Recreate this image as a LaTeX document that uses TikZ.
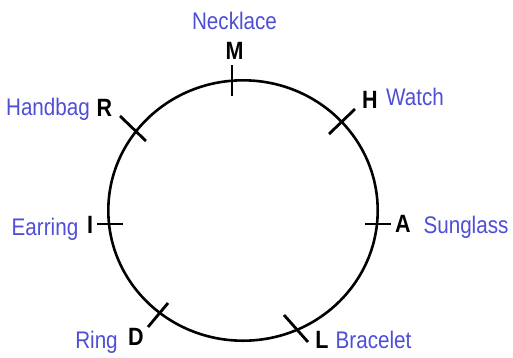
\documentclass[tikz,border=0pt]{standalone}
\usepackage{fontspec}
\setmainfont{Liberation Sans}
\newfontfamily\narrowsans[FakeStretch=0.86]{Liberation Sans}
\usetikzlibrary{
  positioning,
  shapes.geometric
}
\definecolor{ItemBlue}{RGB}{78,78,214}
\tikzset{
  roundtable/.style={
    draw=black,
    ellipse,
    line width=2.6pt,
    inner sep=0pt
  },
  seatmark/.style={draw=black,line width=2.8pt},
  person/.style={font=\narrowsans\bfseries\fontsize{25}{25}\selectfont,text=black,inner sep=0pt,anchor=base},
  item/.style={font=\narrowsans\fontsize{24}{24}\selectfont,text=ItemBlue,inner sep=0pt,anchor=base}
}

\begin{document}
\begin{tikzpicture}[x=1pt,y=-1pt]
  \useasboundingbox (0,0) rectangle (513,357);

  \node[roundtable, minimum width=269.4pt, minimum height=260.4pt] (table) at (243,210.5) {};

  % seat marks
  \draw[seatmark] (232,65) -- (232,96);
  \draw[seatmark] (97,224) -- (123,224);
  \draw[seatmark] (365,224) -- (391,224);
  \draw[seatmark] (120,116) -- (146,141);
  \draw[seatmark] (329,134) -- (355,109);
  \draw[seatmark] (148,327) -- (168,303);
  \draw[seatmark] (284,315) -- (308,342);

  % persons
  \node[person] (M) at (234.5,59) {M};
  \node[person] (H) at (370,108) {H};
  \node[person] (A) at (403,232) {A};
  \node[person] (L) at (322,348) {L};
  \node[person] (D) at (136,345) {D};
  \node[person] (I) at (90,233) {I};
  \node[person] (R) at (104.5,116) {R};

  % items
  \node[item] (necklace) at (234.5,29) {Necklace};
  \node[item] (watch) at (415,105) {Watch};
  \node[item] (sunglass) at (466,233) {Sunglass};
  \node[item] (bracelet) at (373.5,348) {Bracelet};
  \node[item] (ring) at (96.5,348) {Ring};
  \node[item] (earring) at (45,235) {Earring};
  \node[item] (handbag) at (48,115) {Handbag};
\end{tikzpicture}
\end{document}
